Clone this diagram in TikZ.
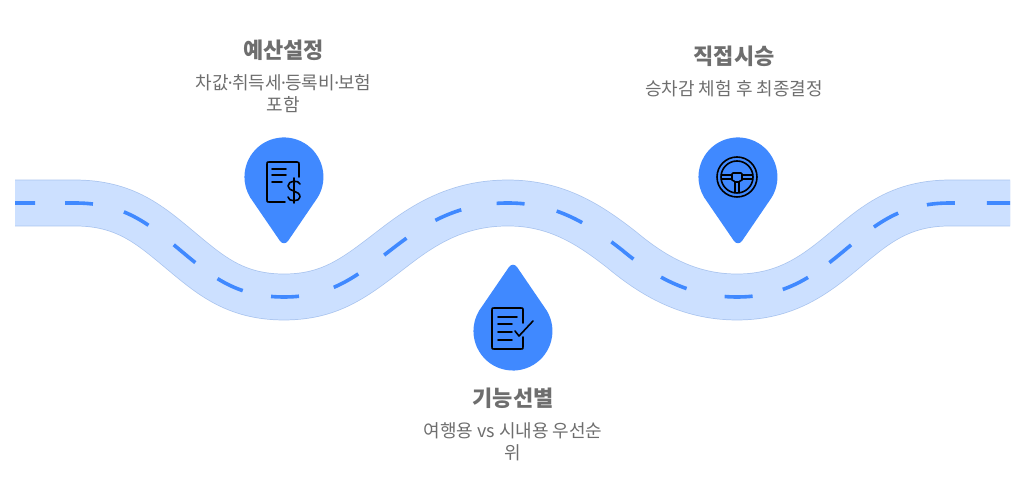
\documentclass[tikz,border=0pt]{standalone}
\usepackage{fontspec}
\setmainfont{Noto Sans CJK KR}
\newfontfamily\dotfont{Noto Sans}
\usetikzlibrary{positioning}
\definecolor{pinblue}{HTML}{4089FF}
\definecolor{roadfill}{HTML}{CCE0FF}
\definecolor{roadedge}{HTML}{A9C4EE}
\definecolor{labelgray}{HTML}{6E6E6E}
\newcommand{\middot}{\kern-0.5pt{\dotfont ·}\kern-0.5pt}
\begin{document}
\begin{tikzpicture}[x=0.75pt,y=0.75pt,
    titlelabel/.style={font=\fontsize{16.5}{18}\selectfont\bfseries,text=labelgray,inner sep=0pt},
    desclabel/.style={font=\fontsize{13.5}{16.5}\selectfont,text=labelgray,inner sep=0pt,align=center},
    icon/.style={draw=black,line width=1.2pt,line cap=round,line join=round},
    pinbody/.pic={\fill[pinblue] (33.8,-20.3) arc (-31:211:39.5) -- (-4,-64) .. controls (-2,-67) and (2,-67) .. (4,-64) -- cycle;}]
  \useasboundingbox (0,0) rectangle (1018,478);
  \def\roadpath{(15,275) -- (75,275) .. controls (125,275) and (150,253) .. (180,228)
    .. controls (210,203) and (235,181) .. (284,181) .. controls (333,181) and (358,203) .. (396,232)
    .. controls (426,255) and (459,275) .. (508,275) .. controls (557,275) and (590,253) .. (622,228)
    .. controls (652,203) and (688,181) .. (737,181) .. controls (786,181) and (815,203) .. (845,228)
    .. controls (875,253) and (900,275) .. (950,275) -- (1010,275)}
  \draw[roadedge,line width=35pt] \roadpath;
  \draw[roadfill,line width=33.9pt] \roadpath;
  \draw[pinblue,line width=2.7pt,dash phase=6pt,
    dash pattern=on 21pt off 22.5pt on 21pt off 24pt on 21pt off 24pt on 21pt off 20.5pt
      on 21pt off 21.75pt on 21pt off 27pt on 21pt off 24pt on 21pt off 25.5pt on 21pt off 27pt
      on 21pt off 24.75pt on 21pt off 26.25pt on 21pt off 24.75pt on 21pt off 29.25pt
      on 21pt off 23.25pt on 21pt off 19.5pt on 21pt off 21.75pt on 21pt off 22.5pt on 21pt off 24pt]
    \roadpath;

  \begin{scope}[shift={(284,301)}]
    \pic {pinbody};
    \draw[icon] (15,0) -- (15,13) .. controls (15,14.5) .. (13,15) -- (-15,15) .. controls (-17,15) .. (-17,13)
      -- (-17,-23) .. controls (-17,-25) .. (-15,-25) -- (1,-25);
    \foreach \y/\xe in {8/2,2/2,-5/-2} {
      \draw[icon] (-12,\y) -- (\xe,\y);
    }
    \draw[icon] (16,-7) .. controls (15,-3) and (4,-3) .. (4,-9) .. controls (4,-15) and (16,-13) .. (16,-20)
      .. controls (16,-25) and (4,-25) .. (4,-20);
    \draw[icon] (10,-1) -- (10,-26);
  \end{scope}

  \begin{scope}[shift={(738,301)}]
    \pic {pinbody};
    \draw[icon] (-1,0) circle (20);
    \draw[icon] (-1,0) circle (16);
    \draw[icon] (-5,4) -- (3,4) .. controls (4,4) .. (4,3) -- (4,-3) .. controls (3,-4) and (1,-4) .. (1,-5)
      -- (-3,-5) .. controls (-3,-4) and (-5,-4) .. (-6,-3) -- (-6,3) .. controls (-6,4) .. (-5,4);
    \draw[icon] (-6,2) -- (-16.5,2);
    \draw[icon] (-6,-2) -- (-16.5,-2);
    \draw[icon] (4,2) -- (14.5,2);
    \draw[icon] (4,-2) -- (14.5,-2);
    \draw[icon] (-3,-5) -- (-3,-15.5);
    \draw[icon] (1,-5) -- (1,-15.5);
  \end{scope}

  \begin{scope}[shift={(513,147)}]
    \pic[yscale=-1] {pinbody};
    \draw[icon] (10,21) .. controls (10,23) .. (8,23) -- (-19,23) .. controls (-21,23) .. (-21,21)
      -- (-21,-16) .. controls (-21,-18) .. (-19,-18) -- (8,-18) .. controls (10,-18) .. (10,-16) -- (10,-6);
    \draw[icon] (10,21) -- (10,8);
    \draw[icon] (-15,14) -- (4,14);
    \foreach \y in {7,-1,-9} {
      \draw[icon] (-15,\y) -- (-1,\y);
    }
    \draw[icon] (2,0) -- (6,-5) -- (20,10);
  \end{scope}

  \node[titlelabel] (budget) at (283.5,428) {예산설정};
  \node[desclabel,below=10.25pt of budget] (budgetdesc) {차값\middot 취득세\middot 등록비\middot 보험\\포함};
  \node[titlelabel] (drive) at (734,422) {직접시승};
  \node[desclabel,below=10.25pt of drive] (drivedesc) {승차감 체험 후 최종결정};
  \node[titlelabel] (features) at (513,80) {기능선별};
  \node[desclabel,below=10.25pt of features] (featuresdesc) {여행용 vs 시내용 우선순\\위};
\end{tikzpicture}
\end{document}
